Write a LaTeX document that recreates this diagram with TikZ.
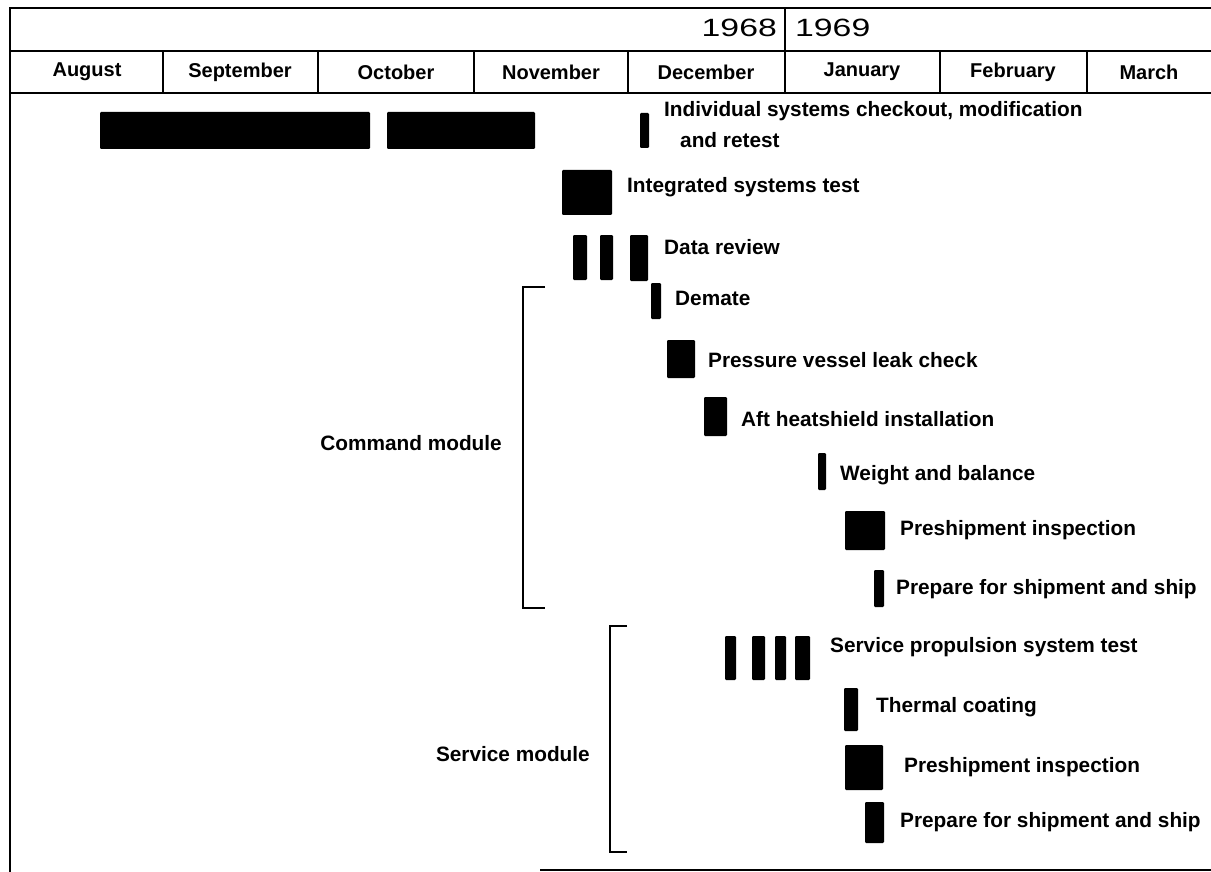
\documentclass[tikz,border=0pt]{standalone}
\usepackage{fontspec}
\setmainfont{Liberation Sans}
\usepackage{graphicx}
\begin{document}
\begin{tikzpicture}[x=1pt,y=-1pt,
  frame/.style={line width=2.6pt,black},
  grid/.style={line width=1.8pt,black},
  bar/.style={fill=black,rounded corners=1.2pt},
  lbl/.style={anchor=west,inner sep=0pt,font=\bfseries\fontsize{20.8}{24}\selectfont},
  month/.style={inner sep=0pt,font=\bfseries\fontsize{20}{23}\selectfont},
  yr/.style={inner sep=0pt,font=\fontsize{25}{28}\selectfont},
  brk/.style={line width=2.2pt,black}]
\useasboundingbox (0,0) rectangle (1211,872);
% frame
\draw[frame] (1211,8) -- (10,8) -- (10,872);
\draw[frame] (540,870) -- (1211,870);
% header
\draw[grid] (10,51) -- (1211,51);
\draw[grid] (10,93) -- (1211,93);
\draw[grid] (785,8) -- (785,51);
\foreach \x in {163,318,474,628,785,940,1087}{\draw[grid] (\x,51) -- (\x,93);}
\node[yr,anchor=east] (y68) at (777,28) {\scalebox{1.35}[1]{1968}};
\node[yr,anchor=west] (y69) at (795,28) {\scalebox{1.35}[1]{1969}};
\node[month] (m1) at (87,72) {August};
\node[month] (m2) at (240,72) {September};
\node[month] (m3) at (396,72) {October};
\node[month] (m4) at (551,72) {November};
\node[month] (m5) at (706,72) {December};
\node[month] (m6) at (862,72) {January};
\node[month] (m7) at (1013,72) {February};
\node[month] (m8) at (1149,72) {March};
% row 1
\fill[bar] (100,112) rectangle (370,149);
\fill[bar] (387,112) rectangle (535,149);
\fill[bar] (640,113) rectangle (649,148);
\node[lbl] (t1) at (664,111) {Individual systems checkout, modification};
\node[lbl] (t1b) at (680,140) {and retest};
% row 2
\fill[bar] (562,170) rectangle (612,215);
\node[lbl] (t2) at (627,187) {Integrated systems test};
% row 3
\fill[bar] (573,235) rectangle (587,280);
\fill[bar] (600,235) rectangle (613,280);
\fill[bar] (630,235) rectangle (648,281);
\node[lbl] (t3) at (664,247) {Data review};
% row 4
\fill[bar] (651,283) rectangle (661,319);
\node[lbl] (t4) at (675,298) {Demate};
% row 5
\fill[bar] (667,340) rectangle (695,378);
\node[lbl] (t5) at (708,360) {Pressure vessel leak check};
% row 6
\fill[bar] (704,397) rectangle (727,436);
\node[lbl] (t6) at (741,419) {Aft heatshield installation};
% row 7
\fill[bar] (818,453) rectangle (826,490);
\node[lbl] (t7) at (840,475) {Weight and balance};
% row 8
\fill[bar] (845,511) rectangle (885,550);
\node[lbl] (t8) at (900,530) {Preshipment inspection};
% row 9
\fill[bar] (874,570) rectangle (884,607);
\node[lbl] (t9) at (896,589) {Prepare for shipment and ship};
% command module bracket
\draw[brk] (545,287) -- (523,287) -- (523,608) -- (545,608);
\node[lbl,anchor=east] (cm) at (502,443) {Command module};
% row 10
\fill[bar] (725,636) rectangle (736,680);
\fill[bar] (752,636) rectangle (765,680);
\fill[bar] (775,636) rectangle (786,680);
\fill[bar] (795,636) rectangle (810,680);
\node[lbl] (t10) at (830,647) {Service propulsion system test};
% row 11
\fill[bar] (844,688) rectangle (858,731);
\node[lbl] (t11) at (876,707) {Thermal coating};
% row 12
\fill[bar] (845,745) rectangle (883,790);
\node[lbl] (t12) at (904,767) {Preshipment inspection};
% row 13
\fill[bar] (865,802) rectangle (884,843);
\node[lbl] (t13) at (900,822) {Prepare for shipment and ship};
% service module bracket
\draw[brk] (627,626) -- (610,626) -- (610,852) -- (627,852);
\node[lbl,anchor=east] (sm) at (590,754) {Service module};
\end{tikzpicture}
\end{document}
